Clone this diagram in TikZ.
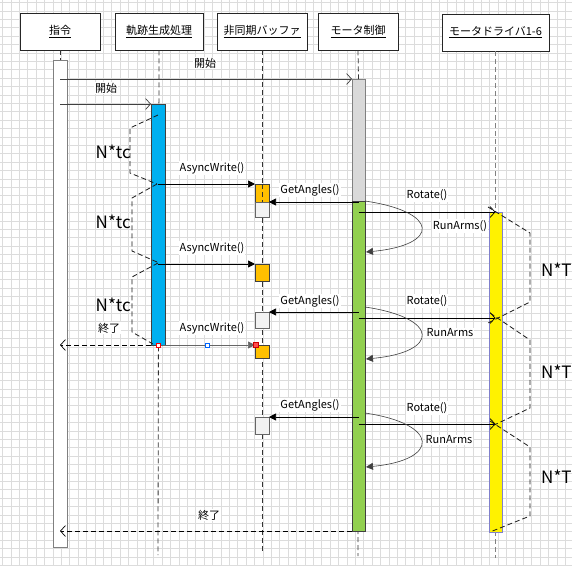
\documentclass[tikz,border=0pt]{standalone}
\usepackage{fontspec}
\setmainfont{Noto Sans CJK JP}
\usepackage{xcolor}
\usetikzlibrary{arrows.meta}

\definecolor{trajblue}{HTML}{00B0F0}
\definecolor{ctrlgray}{HTML}{D9D9D9}
\definecolor{ctrlgreen}{HTML}{92D050}
\definecolor{buforange}{HTML}{FFC000}
\definecolor{bufgray}{HTML}{F2F2F2}
\definecolor{gridgray}{HTML}{DCDCDC}

\tikzset{
  head/.style={draw=black!85, fill=white, minimum height=37, inner sep=0, line width=0.8pt, font=\fontsize{11}{13}\selectfont},
  bar/.style={draw=black!75, anchor=north west, minimum width=14, inner sep=0, outer sep=0, line width=0.7pt},
  life/.style={dash pattern=on 5pt off 3pt, line width=0.8pt, black!80},
  msg/.style={line width=0.7pt, -{Triangle[length=7pt,width=7pt]}},
  call/.style={line width=0.7pt, black!75, -{Straight Barb[length=5pt,width=11pt]}},
  reply/.style={dash pattern=on 5pt off 3pt, line width=0.7pt, -{Straight Barb[length=5pt,width=11pt]}},
  selfcall/.style={line width=0.6pt, black!75, -{Triangle[length=7pt,width=7pt]}},
  span/.style={dash pattern=on 5pt off 3pt, black!90, line width=0.8pt},
  lbl/.style={font=\fontsize{11}{13}\selectfont, fill=white, inner sep=1pt},
  big/.style={font=\fontsize{17}{19}\selectfont, inner sep=0},
  gridline/.style={gridgray, line width=0.5pt},
}

\begin{document}
\begin{tikzpicture}[x=1pt, y=-1pt]
  \useasboundingbox (0,0) rectangle (572,566);
  \fill[white] (0,0) rectangle (572,566);
  % background grid
  \foreach \g in {0,...,67} \draw[gridline] (2.5+\g*8.4,0) -- (2.5+\g*8.4,566);
  \foreach \g in {0,...,67} \draw[gridline] (0,2.5+\g*8.4) -- (572,2.5+\g*8.4);

  % headers
  \node[head, minimum width=80] (cmd) at (60,31.5) {\underline{指令}};
  \node[head, minimum width=88] (traj) at (159,31.5) {\underline{軌跡生成処理}};
  \node[head, minimum width=90] (buf) at (262,31.5) {\underline{非同期バッファ}};
  \node[head, minimum width=80] (ctrl) at (358,31.5) {\underline{モータ制御}};
  \node[head, minimum width=107] (drv) at (495.5,32.5) {\underline{モータドライバ1-6}};

  % lifeline ends
  \coordinate (trajend) at (158,555);
  \coordinate (bufend) at (262,552);
  \coordinate (ctrlend) at (358,556);
  \coordinate (drvend) at (495.5,558);

  % activation bars
  \node[bar, fill=white, draw=black!50, minimum height=487] (cmdbar) at (53,60) {};
  \node[bar, fill=ctrlgray, draw=black!50, minimum width=13, minimum height=122] (ctrlbar1) at (352,79) {};

  % lifelines
  \draw[life] (cmd.south) -- (cmdbar.north);
  \draw[life] (traj.south) -- (trajend);
  \draw[life] (buf.south) -- (bufend);
  \draw[life] (ctrl.south) -- (ctrlbar1.north);
  \draw[life] (ctrlbar1.south) -- (ctrlend);
  \draw[life, black!50, line width=1.2pt] (drv.south) -- (drvend);

  \node[bar, fill=trajblue, minimum height=241] (trajbar) at (151,104) {};
  \node[bar, fill=ctrlgreen, minimum width=13, minimum height=330] (ctrlbar2) at (352,201) {};
  \node[bar, fill=yellow, draw=black!40!blue!50, minimum width=13, minimum height=320] (drvbar) at (489,212) {};

  % buffer boxes
  \node[bar, fill=buforange, minimum height=18] (w1) at (255,184) {};
  \node[bar, fill=bufgray, draw=black!60, minimum height=15] (r1) at (255,202) {};
  \node[bar, fill=buforange, minimum height=17] (w2) at (255,264) {};
  \node[bar, fill=bufgray, draw=black!60, minimum height=16] (r2) at (255,312) {};
  \node[bar, fill=buforange, minimum height=13] (w3) at (255,345) {};
  \node[bar, fill=bufgray, draw=black!60, minimum height=17] (r3) at (255,417) {};
  \draw[life] (w1.north) -- (w1.south);

  % start messages
  \draw[call] (cmdbar.center |- ctrlbar1.north west) -- (ctrlbar1.north west);
  \node[lbl] (lstart1) at (205,63) {開始};
  \draw[call] (cmdbar.center |- trajbar.north west) -- (trajbar.north west);
  \node[lbl] (lstart2) at (106,88) {開始};

  % writes
  \draw[msg] (trajbar.center |- w1.north west) -- (w1.north west);
  \node[lbl] (law1) at (212,168) {AsyncWrite()};
  \draw[msg] (trajbar.center |- w2.north west) -- (w2.north west);
  \node[lbl] (law2) at (212,248) {AsyncWrite()};
  \draw[msg, black!60] (trajbar.center |- w3.north west) -- (w3.north west);
  \node[lbl] (law3) at (212,328) {AsyncWrite()};

  % reads
  \draw[msg] (ctrlbar2.center |- r1.north east) -- (r1.north east);
  \node[lbl] (lga1) at (310,190) {GetAngles()};
  \draw[msg] (ctrlbar2.center |- r2.north east) -- (r2.north east);
  \node[lbl] (lga2) at (310,301) {GetAngles()};
  \draw[msg] (ctrlbar2.center |- r3.north east) -- (r3.north east);
  \node[lbl] (lga3) at (310,405) {GetAngles()};

  % rotate
  \coordinate (rt2) at (495.5,318);
  \coordinate (rt3) at (495.5,424);
  \draw[call, black] (ctrlbar2.center |- drvbar.north) -- (drvbar.north);
  \node[lbl] (lrt1) at (427,195) {Rotate()};
  \draw[call, black] (ctrlbar2.center |- rt2) -- (rt2);
  \node[lbl] (lrt2) at (427,301) {Rotate()};
  \draw[call, black] (ctrlbar2.center |- rt3) -- (rt3);
  \node[lbl] (lrt3) at (427,408) {Rotate()};

  % run arms
  \coordinate (ra1) at (365,201);
  \coordinate (ra1e) at (366,252);
  \coordinate (ra2) at (365,307);
  \coordinate (ra2e) at (366,359);
  \coordinate (ra3) at (365,413);
  \coordinate (ra3e) at (366,467);
  \draw[selfcall] (ra1) .. controls (440,212) and (440,245) .. (ra1e);
  \node[lbl] (lra1) at (460,226) {RunArms()};
  \draw[selfcall] (ra2) .. controls (440,318) and (440,352) .. (ra2e);
  \node[lbl] (lra2) at (450,333) {RunArms};
  \draw[selfcall] (ra3) .. controls (440,424) and (440,460) .. (ra3e);
  \node[lbl] (lra3) at (449,440) {RunArms};

  % end
  \draw[reply] (trajbar.south west) -- (cmdbar.center |- trajbar.south west);
  \node[lbl] (lend1) at (109,328) {終了};
  \draw[reply] (ctrlbar2.south west) -- (cmdbar.center |- ctrlbar2.south west);
  \node[lbl] (lend2) at (209,515) {終了};

  % cycle brackets
  \draw[span] (158,115) -- (130,128) -- (130,173) -- (157,184);
  \draw[span] (157,184) -- (132,198) -- (132,251) -- (157,262);
  \draw[span] (158,263) -- (132,277) -- (132,332) -- (153,344);
  \node[big, anchor=east] (tc1) at (131,152) {N*tc};
  \node[big, anchor=east] (tc2) at (131,222) {N*tc};
  \node[big, anchor=east] (tc3) at (131,305) {N*tc};
  \draw[span] (488,207) -- (530,233) -- (530,302) -- (488,323);
  \draw[span] (490,313) -- (530,340) -- (530,408) -- (490,427);
  \draw[span] (490,421) -- (530,447) -- (530,516) -- (490,532);
  \node[big, anchor=west] (t1) at (541,270) {N*T};
  \node[big, anchor=west] (t2) at (541,372) {N*T};
  \node[big, anchor=west] (t3) at (541,477) {N*T};

  % selection handles
  \node[draw=red, fill=white, minimum size=4, inner sep=0] (h1) at (158,345) {};
  \node[draw=blue!60!cyan, fill=white, minimum size=3.5, inner sep=0] (h2) at (207,345) {};
  \node[draw=red!80!black, fill=red!70, minimum size=5, inner sep=0] (h3) at (256,345) {};
\end{tikzpicture}
\end{document}
